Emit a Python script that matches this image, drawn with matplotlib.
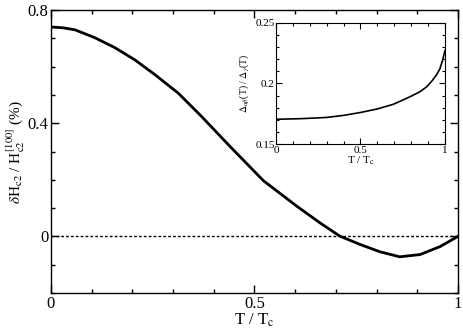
import matplotlib
matplotlib.use("Agg")
import matplotlib.pyplot as plt
from matplotlib.ticker import MultipleLocator

plt.rcParams['font.family'] = ['Liberation Serif', 'DejaVu Serif']
plt.rcParams['mathtext.fontset'] = 'stix'

# main curve: dHc2 / Hc2[100] (%) vs T/Tc
t_main = [0.0, 0.03, 0.059, 0.108, 0.157, 0.206, 0.256, 0.313, 0.370, 0.44,
          0.522, 0.604, 0.661, 0.710, 0.759, 0.808, 0.857, 0.907, 0.956, 1.0]
dh_main = [0.740, 0.737, 0.730, 0.702, 0.667, 0.624, 0.571, 0.506, 0.424, 0.318,
           0.197, 0.107, 0.048, 0.001, -0.028, -0.054, -0.072, -0.064, -0.036, 0.0]

# inset: gap ratio vs T/Tc
t_ins = [0.0, 0.15, 0.3, 0.4, 0.497, 0.6, 0.694, 0.793, 0.85, 0.89, 0.92,
         0.95, 0.97, 0.986, 1.0]
gap_ins = [0.1705, 0.1710, 0.1720, 0.1737, 0.176, 0.1790, 0.1828, 0.189,
           0.1930, 0.197, 0.2015, 0.207, 0.2120, 0.219, 0.227]

fig = plt.figure(figsize=(4.63, 3.33), dpi=100)
ax = fig.add_axes([0.110, 0.120, 0.879, 0.850])

ax.plot(t_main, dh_main, color='black', lw=2.0, solid_joinstyle='round')
ax.axhline(0, color='black', lw=1.0, ls=(0, (2, 1.5)))

ax.set_xlim(0, 1)
ax.set_ylim(-0.2, 0.8)
ax.set_xticks([0, 0.5, 1])
ax.set_xticklabels(['0', '0.5', '1'], fontsize=12)
ax.set_yticks([0, 0.4, 0.8])
ax.set_yticklabels(['0', '0.4', '0.8'], fontsize=12)
ax.xaxis.set_minor_locator(MultipleLocator(0.1))
ax.yaxis.set_minor_locator(MultipleLocator(0.1))
ax.tick_params(which='both', direction='in', top=True, right=True, width=1)
ax.tick_params(which='major', length=6, pad=2)
ax.tick_params(which='minor', length=3)
ax.set_xlabel(r'T / T$_{\rm c}$', fontsize=12, labelpad=0)
ax.set_ylabel(r'$\delta$H$_{\rm c2}$ / H$_{\rm c2}^{[100]}$ (%)', fontsize=11, labelpad=0)
for s in ax.spines.values():
    s.set_linewidth(1.0)

ins = fig.add_axes([0.596, 0.567, 0.365, 0.365])
ins.plot(t_ins, gap_ins, color='black', lw=1.2)
ins.set_xlim(0, 1)
ins.set_ylim(0.15, 0.25)
ins.set_xticks([0, 0.5, 1])
ins.set_xticklabels(['0', '0.5', '1'], fontsize=8)
ins.set_yticks([0.15, 0.2, 0.25])
ins.set_yticklabels(['0.15', '0.2', '0.25'], fontsize=8)
ins.xaxis.set_minor_locator(MultipleLocator(0.1))
ins.yaxis.set_minor_locator(MultipleLocator(0.01))
ins.tick_params(which='both', direction='in', top=True, right=True, width=0.8, pad=1)
ins.tick_params(which='major', length=4)
ins.tick_params(which='minor', length=2)
ins.set_xlabel(r'T / T$_{\rm c}$', fontsize=8, labelpad=0)
ins.set_ylabel(r'$\Delta_{\alpha\beta}$(T) / $\Delta_{\gamma}$(T)', fontsize=7, labelpad=3)
for s in ins.spines.values():
    s.set_linewidth(0.8)

fig.savefig('out.png', dpi=100)
